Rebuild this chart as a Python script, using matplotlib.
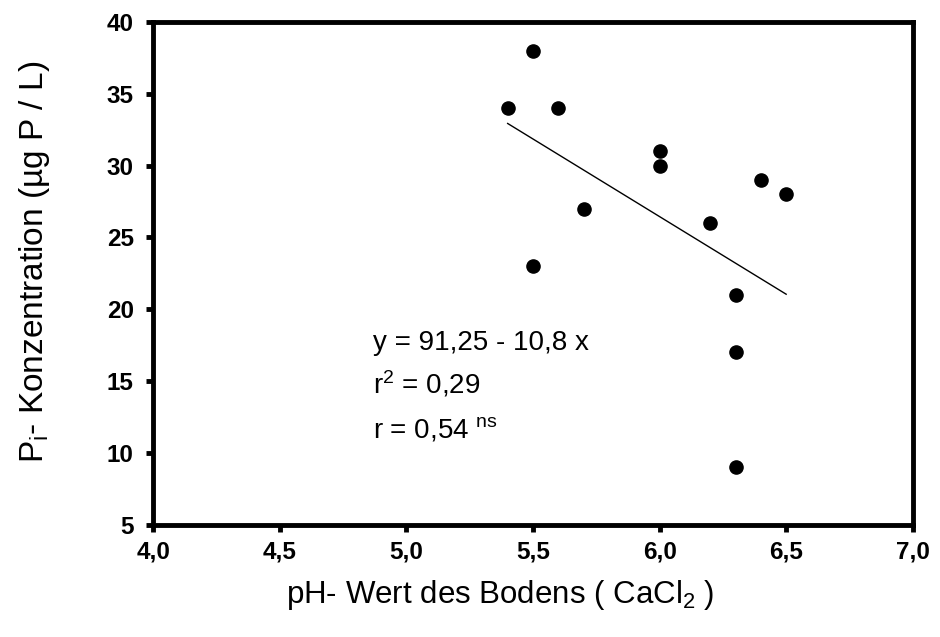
import matplotlib
matplotlib.use("Agg")
import matplotlib.pyplot as plt
import numpy as np

plt.rcParams['font.family'] = ['Liberation Sans', 'DejaVu Sans']
plt.rcParams['mathtext.fontset'] = 'custom'
plt.rcParams['mathtext.rm'] = 'Liberation Sans'
plt.rcParams['mathtext.it'] = 'Liberation Sans'

# data
ph = [5.4, 5.5, 5.6, 5.5, 5.7, 6.0, 6.0, 6.2, 6.3, 6.3, 6.3, 6.4, 6.5]
pi_conc = [34, 38, 34, 23, 27, 31, 30, 26, 21, 17, 9, 29, 28]
a, b = 91.25, -10.8
fit_x = [5.4, 6.5]

xticks = [4.0, 4.5, 5.0, 5.5, 6.0, 6.5, 7.0]
yticks = [5, 10, 15, 20, 25, 30, 35, 40]

fig = plt.figure(figsize=(9.4, 6.37), dpi=100)
ax = fig.add_axes([0.163, 0.176, 0.808, 0.7897])

ax.scatter(ph, pi_conc, s=90, color='black', zorder=3)
fx = np.array(fit_x)
ax.plot(fx, a + b * fx, color='black', lw=1)

ax.set_xlim(4.0, 7.0)
ax.set_ylim(5, 40)
ax.set_xticks(xticks)
ax.set_xticklabels([f"{t:.1f}".replace('.', ',') for t in xticks])
ax.set_yticks(yticks)
for s in ax.spines.values():
    s.set_linewidth(3.5)
ax.tick_params(direction='out', length=5, width=3.5, labelsize=17.5)
ax.tick_params(axis='x', pad=6)
ax.tick_params(axis='y', pad=9)
for lab in ax.get_xticklabels() + ax.get_yticklabels():
    lab.set_fontweight('bold')

ax.set_xlabel(r'pH- Wert des Bodens ( CaCl$_{2}$ )', fontsize=22.5)
ax.set_ylabel(r'P$_{i}$- Konzentration (µg P / L)', fontsize=24)
ax.xaxis.set_label_coords(0.457, -0.105)
ax.yaxis.set_label_coords(-0.133, 0.523)

ax.text(4.87, 17.2, 'y = 91,25 - 10,8 x', fontsize=20, va='baseline')
ax.text(4.87, 14.15, r'r$^{2}$ = 0,29', fontsize=20, va='baseline')
ax.text(4.87, 11.1, r'r = 0,54 $^{\mathrm{ns}}$', fontsize=20, va='baseline')

fig.savefig('out.png', dpi=100)
